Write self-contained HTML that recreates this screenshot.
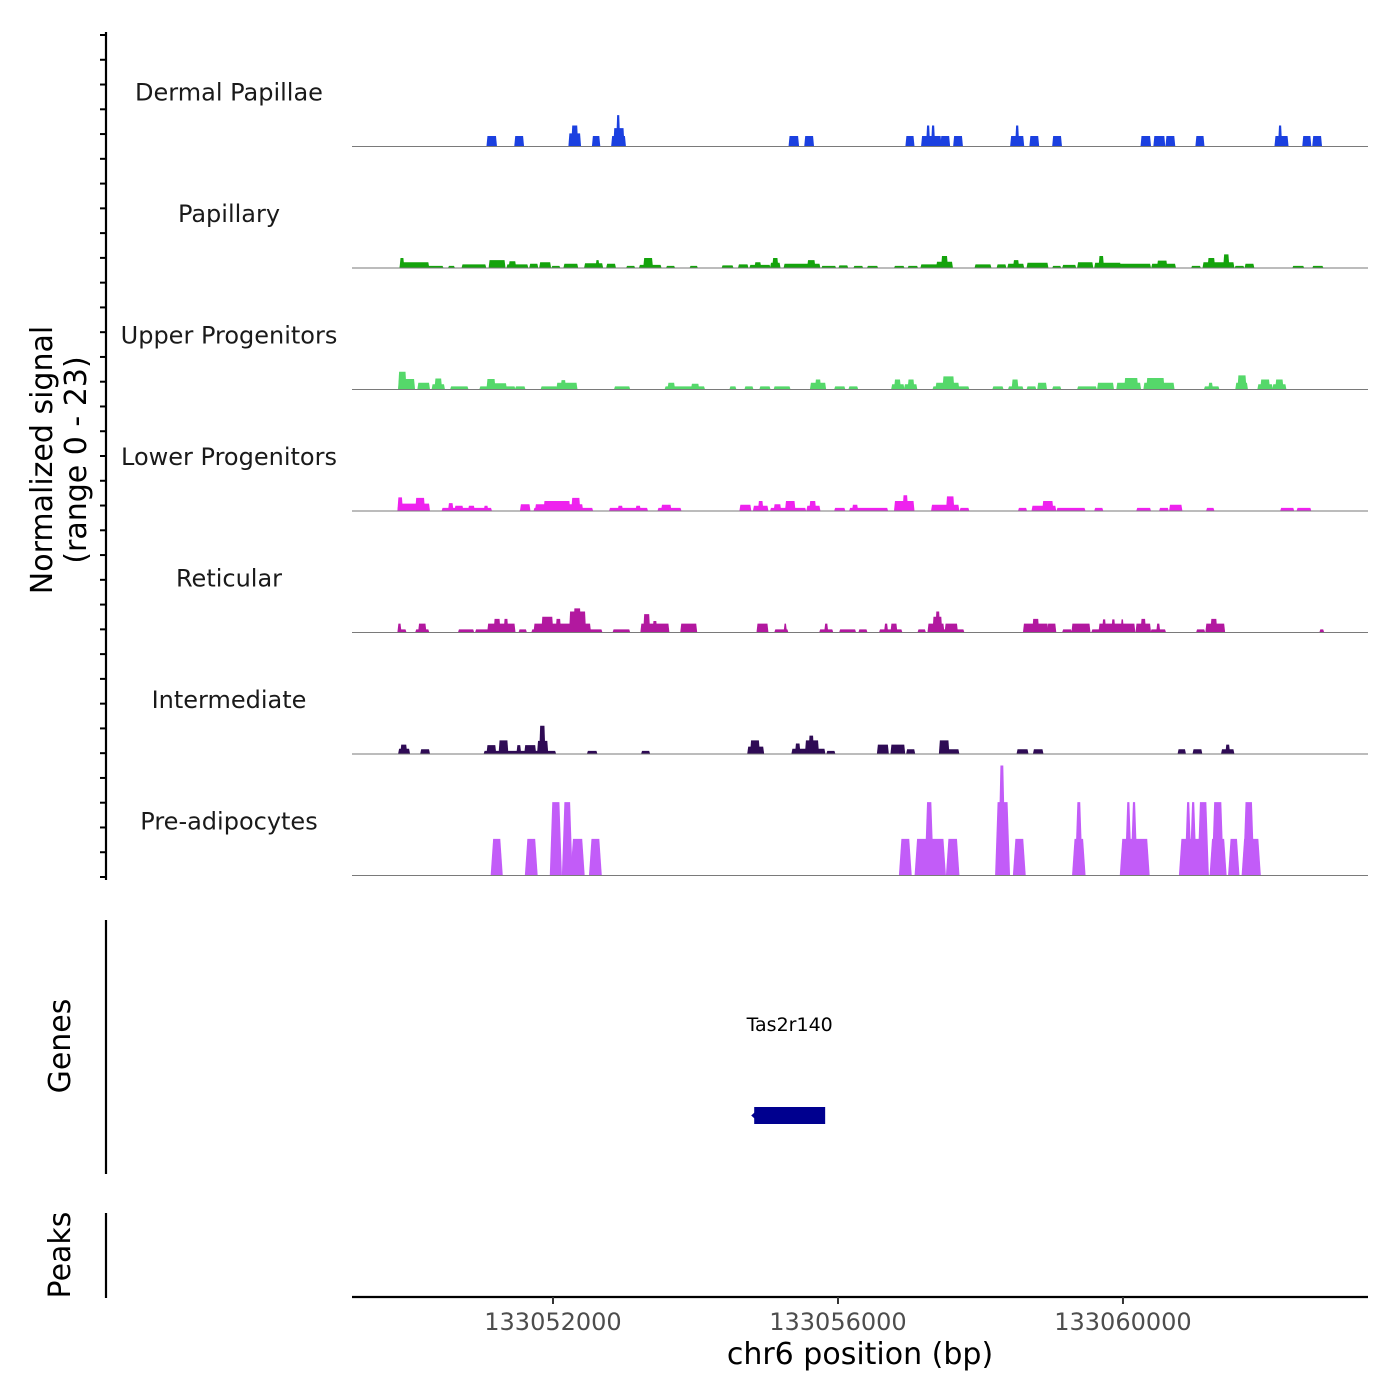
<!DOCTYPE html>
<html><head><meta charset="utf-8"><style>
html,body{margin:0;padding:0;background:#fff;}
svg{display:block;font-family:"DejaVu Sans","Liberation Sans",sans-serif;}
</style></head><body>
<svg id="chart" width="1400" height="1400" viewBox="0 0 1400 1400" xmlns="http://www.w3.org/2000/svg">
<rect width="1400" height="1400" fill="#fff"/>
<g id="tracks"></g>
<g id="ticks"></g>
<line x1="106" y1="32" x2="106" y2="880" stroke="#000" stroke-width="2.2"/>
<text transform="translate(52,460) rotate(-90)" text-anchor="middle" font-size="30" fill="#000">Normalized signal</text>
<text transform="translate(86,460) rotate(-90)" text-anchor="middle" font-size="30" fill="#000">(range 0 - 23)</text>
<line x1="106" y1="920" x2="106" y2="1174" stroke="#000" stroke-width="2.2"/>
<text transform="translate(70,1046) rotate(-90)" text-anchor="middle" font-size="30" fill="#000">Genes</text>
<g id="genes"></g>
<line x1="106" y1="1213" x2="106" y2="1298" stroke="#000" stroke-width="2.2"/>
<text transform="translate(70,1255) rotate(-90)" text-anchor="middle" font-size="30" fill="#000">Peaks</text>
<line x1="352" y1="1297" x2="1368" y2="1297" stroke="#000" stroke-width="2.2"/>
<g id="xticks"></g>
<text x="860" y="1364" text-anchor="middle" font-size="30" fill="#000">chr6 position (bp)</text>
</svg>
<script>
// Genomic region
const regionStart = 133049179;
const regionEnd = 133063439;
const kbOrigin = 133049000;
const yMax = 23;
const xTickValues = [133052000, 133056000, 133060000];
const xTickLabels = ["133052000", "133056000", "133060000"];
const trackNames = ["Dermal Papillae","Papillary","Upper Progenitors","Lower Progenitors","Reticular","Intermediate","Pre-adipocytes"];
const trackColors = ["#1b40e0","#14a30c","#55d86a","#ee22ee","#b2189f","#2f0b55","#c25cf8"];
// segments: [start kb from kbOrigin, end kb, normalized signal]
const dermalPapillae = [[2.08,2.20,2],[2.47,2.58,2],[3.23,3.38,2.5],[3.27,3.34,4],[3.56,3.65,2],[3.83,4.01,2],[3.86,3.99,3.5],[3.90,3.93,6],[6.32,6.44,2],[6.54,6.65,2],[7.96,8.06,2],[8.18,8.44,2],[8.25,8.28,4],[8.32,8.35,4],[8.45,8.56,2],[8.63,8.74,2],[9.43,9.60,2],[9.50,9.53,4],[9.70,9.81,2],[10.02,10.13,2],[11.26,11.38,2],[11.44,11.58,2],[11.61,11.72,2],[12.03,12.13,2],[13.14,13.31,2],[13.19,13.22,4],[13.53,13.63,2],[13.67,13.78,2]];
const papillary = [[0.86,0.90,1.9],[0.86,1.25,1.1],[1.25,1.45,0.4],[1.54,1.61,0.4],[1.73,2.05,0.7],[2.11,2.32,1.5],[2.36,2.64,0.7],[2.39,2.47,1.3],[2.68,2.78,0.8],[2.82,2.96,1.1],[2.99,3.09,0.4],[3.16,3.34,0.8],[3.45,3.69,0.9],[3.61,3.64,1.5],[3.76,3.87,0.8],[4.04,4.14,0.4],[4.22,4.51,0.6],[4.28,4.39,1.9],[4.60,4.70,0.4],[4.93,5.02,0.4],[5.38,5.52,0.5],[5.61,5.73,0.7],[5.77,6.04,0.6],[5.84,5.91,1.1],[6.06,6.18,1.0],[6.09,6.15,1.9],[6.25,6.74,0.8],[6.58,6.67,1.5],[6.78,6.96,0.4],[7.02,7.13,0.5],[7.23,7.34,0.4],[7.42,7.55,0.4],[7.80,7.92,0.4],[7.99,8.11,0.4],[8.17,8.39,0.7],[8.39,8.60,1.2],[8.46,8.53,2.3],[8.93,9.14,0.7],[9.24,9.35,0.7],[9.39,9.60,0.8],[9.47,9.53,1.5],[9.66,9.94,1.0],[10.02,10.12,0.4],[10.16,10.33,0.6],[10.37,10.57,1.1],[10.61,10.96,1.0],[10.67,10.72,2.3],[10.96,11.38,0.8],[11.41,11.73,0.8],[11.49,11.61,1.4],[11.97,12.08,0.4],[12.13,12.55,1.1],[12.20,12.28,1.9],[12.42,12.48,2.6],[12.58,12.69,0.4],[12.72,12.83,0.8],[13.39,13.53,0.4],[13.67,13.80,0.4]];
const upperProgenitors = [[0.84,0.93,3.4],[0.84,1.05,2.0],[1.11,1.26,1.3],[1.31,1.47,1.0],[1.35,1.43,2.1],[1.57,1.80,0.6],[1.98,2.46,0.6],[2.08,2.18,2.0],[2.18,2.34,1.2],[2.48,2.60,0.6],[2.84,3.05,0.6],[3.06,3.23,1.3],[3.12,3.17,1.8],[3.23,3.33,1.3],[3.87,4.07,0.6],[4.58,5.12,0.6],[4.62,4.70,1.3],[4.95,5.04,1.1],[5.49,5.56,0.6],[5.70,5.80,0.6],[5.91,6.04,0.6],[6.11,6.32,0.6],[6.62,6.82,1.3],[6.69,6.75,1.9],[6.96,7.09,0.6],[7.16,7.27,0.6],[7.76,7.92,1.0],[7.80,7.87,1.9],[7.94,8.10,1.0],[7.99,8.06,1.9],[8.34,8.83,0.6],[8.38,8.69,1.3],[8.48,8.62,2.5],[9.18,9.31,0.6],[9.40,9.59,0.6],[9.45,9.52,1.9],[9.66,9.77,0.6],[9.81,9.92,1.3],[10.02,10.12,0.6],[10.37,10.62,0.6],[10.65,10.86,1.3],[10.92,11.24,1.3],[11.03,11.20,2.2],[11.30,11.71,1.3],[11.34,11.57,2.2],[12.15,12.34,0.6],[12.21,12.25,1.3],[12.59,12.74,1.3],[12.62,12.72,2.7],[12.90,13.09,1.0],[12.94,13.05,1.9],[13.11,13.28,1.0],[13.15,13.24,1.9]];
const lowerProgenitors = [[0.83,1.26,1.4],[0.83,0.88,2.6],[1.08,1.19,2.5],[1.45,2.13,0.6],[1.54,1.59,1.5],[1.63,1.73,1.0],[1.82,1.89,1.0],[2.04,2.08,1.0],[2.55,2.67,1.3],[2.74,3.55,0.6],[2.76,3.41,1.3],[2.88,3.23,1.9],[3.27,3.37,2.5],[3.80,4.32,0.6],[3.92,3.97,1.0],[4.17,4.22,1.0],[4.48,4.79,0.6],[4.53,4.65,1.2],[5.63,5.77,1.2],[5.82,6.01,1.0],[5.89,5.94,1.9],[6.06,6.54,0.6],[6.11,6.19,1.3],[6.27,6.39,1.9],[6.57,6.74,1.0],[6.61,6.68,1.9],[6.96,7.09,0.6],[7.17,7.69,0.6],[7.21,7.27,1.2],[7.80,8.06,1.9],[7.92,7.97,3.0],[8.32,8.69,1.2],[8.53,8.62,2.8],[8.72,8.83,0.6],[9.54,9.64,0.6],[9.73,10.05,1.0],[9.88,10.01,1.9],[10.08,10.46,0.6],[10.61,10.71,0.6],[11.20,11.38,0.6],[11.52,11.63,0.6],[11.66,11.82,1.2],[12.18,12.27,0.6],[13.22,13.39,0.6],[13.45,13.63,0.6]];
const reticular = [[0.83,0.93,0.6],[0.83,0.86,1.7],[1.08,1.25,0.6],[1.12,1.21,1.7],[1.68,1.88,0.6],[1.92,2.08,0.6],[2.09,2.46,1.7],[2.18,2.25,2.6],[2.32,2.36,2.6],[2.53,2.62,0.6],[2.71,3.68,0.6],[2.74,3.52,1.7],[2.85,2.99,3.0],[3.05,3.10,2.6],[3.24,3.45,4.0],[3.30,3.38,4.6],[3.85,4.07,0.6],[4.24,4.62,1.7],[4.28,4.35,3.5],[4.41,4.45,2.2],[4.80,5.01,1.7],[5.87,6.01,1.7],[6.12,6.29,0.6],[6.25,6.27,1.7],[6.75,6.92,0.6],[6.82,6.85,1.7],[7.03,7.24,0.6],[7.30,7.40,0.6],[7.59,7.89,0.6],[7.66,7.69,1.7],[7.75,7.82,1.7],[8.13,8.22,0.6],[8.27,8.48,1.7],[8.34,8.45,3.0],[8.38,8.42,4.0],[8.51,8.67,1.7],[8.48,8.76,0.6],[9.61,9.94,1.7],[9.74,9.81,2.6],[9.95,10.05,1.7],[10.16,10.27,0.6],[10.29,10.53,1.7],[10.57,10.67,0.6],[10.67,11.16,1.7],[10.72,10.75,2.5],[10.85,10.88,2.5],[10.98,11.00,2.5],[11.19,11.38,1.7],[11.26,11.31,2.6],[11.40,11.59,0.6],[11.48,11.51,1.7],[12.04,12.14,0.6],[12.17,12.42,1.7],[12.24,12.31,2.6],[13.77,13.81,0.6]];
const intermediate = [[0.84,0.98,1.0],[0.87,0.94,1.8],[1.15,1.26,0.9],[2.04,2.60,0.6],[2.08,2.19,1.7],[2.25,2.36,2.6],[2.50,2.54,1.7],[2.61,2.75,1.7],[2.75,3.03,0.6],[2.79,2.92,2.5],[2.82,2.88,5.4],[3.49,3.61,0.6],[4.25,4.35,0.6],[5.74,5.95,1.4],[5.78,5.89,2.6],[6.36,6.81,1.0],[6.41,6.46,2.0],[6.55,6.72,2.6],[6.60,6.65,3.5],[6.85,6.95,0.6],[7.56,7.70,1.8],[7.75,7.93,1.8],[7.97,8.07,0.9],[8.43,8.55,2.6],[8.43,8.69,0.9],[9.52,9.66,0.9],[9.75,9.87,0.9],[11.78,11.87,0.9],[11.99,12.10,0.9],[12.39,12.55,0.9],[12.45,12.49,1.8]];
const preAdipocytes = [[2.16,2.26,7],[2.64,2.75,7],[2.99,3.09,14],[3.16,3.24,14],[3.28,3.41,7],[3.54,3.65,7],[7.89,8.00,7],[8.11,8.48,7],[8.25,8.31,14],[8.55,8.67,7],[9.24,9.38,14],[9.28,9.32,21],[9.49,9.60,7],[10.32,10.44,7],[10.36,10.40,14],[10.99,11.34,7],[11.06,11.09,14],[11.14,11.17,14],[11.82,12.17,7],[11.90,11.93,14],[11.97,12.00,14],[12.08,12.17,14],[12.25,12.42,7],[12.28,12.38,14],[12.51,12.60,7],[12.70,12.90,7],[12.72,12.81,14]];
const trackData = [dermalPapillae, papillary, upperProgenitors, lowerProgenitors, reticular, intermediate, preAdipocytes];
const trackKeys = ["dermal-papillae","papillary","upper-progenitors","lower-progenitors","reticular","intermediate","pre-adipocytes"];
// gene annotation
const geneNames = ["Tas2r140"];
const geneStarts = [133054824];
const geneEnds = [133055820];

const NS = "http://www.w3.org/2000/svg";
const plotLeft = 352, plotRight = 1368;
const firstBase = 146.5, trackH = 121.5;
const pxPerUnit = 110 / 21;
function xScale(bp){ return plotLeft + (bp - regionStart) / (regionEnd - regionStart) * (plotRight - plotLeft); }
function kbToBp(kb){ return kbOrigin + kb * 1000; }
function yScale(v, base){ return base - v * pxPerUnit; }
function mk(tag, attrs){ const e = document.createElementNS(NS, tag); for (const k in attrs) e.setAttribute(k, attrs[k]); return e; }

const tracksG = document.getElementById('tracks');
trackNames.forEach((name, i) => {
  const base = firstBase + i * trackH;
  const g = mk('g', {});
  
  
  const lbl = mk('text', {x: 229, y: base - 46, 'text-anchor': 'middle', 'font-size': 24, fill: '#1a1a1a'});
  lbl.textContent = name;
  
  
  g.appendChild(lbl);
  const slope = i === 6 ? 2.5 : 1;
  trackData[i].forEach(seg => {
    const x0 = xScale(kbToBp(seg[0])), x1 = xScale(kbToBp(seg[1]));
    const yt = yScale(seg[2], base);
    const p = mk('polygon', {points: `${x0 - slope},${base} ${x0},${yt} ${x1},${yt} ${x1 + slope},${base}`, fill: trackColors[i]});
    
    
    g.appendChild(p);
  });
  const bl = mk('line', {x1: plotLeft, x2: plotRight, y1: base, y2: base, stroke: '#7a7a7a', 'stroke-width': 1});
  
  
  g.appendChild(bl);
  tracksG.appendChild(g);
});

const ticksG = document.getElementById('ticks');
const tickCount = 35;
for (let k = 0; k < tickCount; k++) {
  const y = 35 + k * (842 / (tickCount - 1));
  const t = mk('line', {x1: 100, x2: 106, y1: y, y2: y, stroke: '#000', 'stroke-width': 2});
  
  
  ticksG.appendChild(t);
}

const xt = document.getElementById('xticks');
xTickValues.forEach((v, i) => {
  const x = xScale(v);
  const t = mk('line', {x1: x, x2: x, y1: 1297, y2: 1304, stroke: '#333', 'stroke-width': 2});
  
  
  xt.appendChild(t);
  const l = mk('text', {x: x, y: 1330, 'text-anchor': 'middle', 'font-size': 24, fill: '#4d4d4d'});
  l.textContent = xTickLabels[i];
  
  
  xt.appendChild(l);
});

const genesG = document.getElementById('genes');
geneNames.forEach((gn, i) => {
  const x0 = xScale(geneStarts[i]), x1 = xScale(geneEnds[i]);
  const r = mk('rect', {x: x0, y: 1107, width: x1 - x0, height: 17, fill: '#00008f'});
  
  
  genesG.appendChild(r);
  const a = mk('polygon', {points: `${x0 - 3},1115.5 ${x0 + 2},1111 ${x0 + 2},1120`, fill: '#00008f'});
  
  
  genesG.appendChild(a);
  const t = mk('text', {x: (x0 + x1) / 2, y: 1031, 'text-anchor': 'middle', 'font-size': 19, fill: '#000'});
  t.textContent = gn;
  
  
  genesG.appendChild(t);
});
</script>
</body></html>
